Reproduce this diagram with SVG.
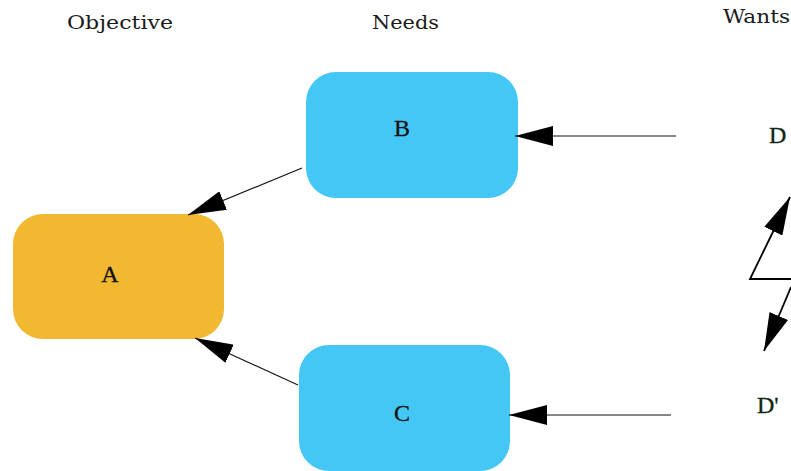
<svg xmlns="http://www.w3.org/2000/svg" width="791" height="471" viewBox="0 0 791 471">
<style>
.hdr{font-family:"DejaVu Serif","Liberation Serif",serif;font-size:19px;fill:#1a1a1a}
.lbl{font-family:"Liberation Serif","Times New Roman",serif;font-size:24px;fill:#111;text-anchor:middle;stroke:#111;stroke-width:0.3}
.want{font-family:"Liberation Serif","Times New Roman",serif;font-size:24px;fill:#0f260f;stroke:#0f260f;stroke-width:0.3}
.obj{fill:#f3b832}
.need{fill:#45c7f5}
.edge{fill:none;stroke:#111;stroke-width:1.2;marker-end:url(#ah)}
.edge.thick{stroke-width:1.8;stroke:#000}
</style>
<defs>
<marker id="ah" markerUnits="userSpaceOnUse" markerWidth="38" markerHeight="20" refX="38" refY="10" orient="auto" viewBox="0 0 38 20">
<path d="M0,0 L38,10 L0,20 z" fill="#000"/>
</marker>
</defs>
<rect width="791" height="471" fill="#fff"/>
<g id="headers">
<text class="hdr" x="67" y="29" textLength="106" lengthAdjust="spacingAndGlyphs">Objective</text>
<text class="hdr" x="372" y="29" textLength="67" lengthAdjust="spacingAndGlyphs">Needs</text>
<text class="hdr" x="723" y="23" textLength="67" lengthAdjust="spacingAndGlyphs">Wants</text>
</g>
<g id="node-A">
<rect class="obj" x="13" y="214" width="211" height="125" rx="30" ry="30"/>
<text class="lbl" x="110" y="282">A</text>
</g>
<g id="node-B">
<rect class="need" x="306" y="72" width="212" height="126" rx="30" ry="30"/>
<text class="lbl" x="402" y="136">B</text>
</g>
<g id="node-C">
<rect class="need" x="299" y="345" width="211" height="126" rx="30" ry="30"/>
<text class="lbl" x="402" y="421">C</text>
</g>
<g id="node-D">
<text class="want" x="769" y="143">D</text>
</g>
<g id="node-D2">
<text class="want" x="757" y="413">D'</text>
</g>
<g id="connectors">
<path class="edge" d="M302,168 L188,215"/>
<path class="edge" d="M298,385 L195,338"/>
<path class="edge" d="M676,136 L515,136"/>
<path class="edge" d="M671,415 L509,415"/>
<path class="edge thick" d="M791,279 H750 L790,197"/>
<path class="edge thick" d="M791,287 L764,351"/>
</g>
</svg>
